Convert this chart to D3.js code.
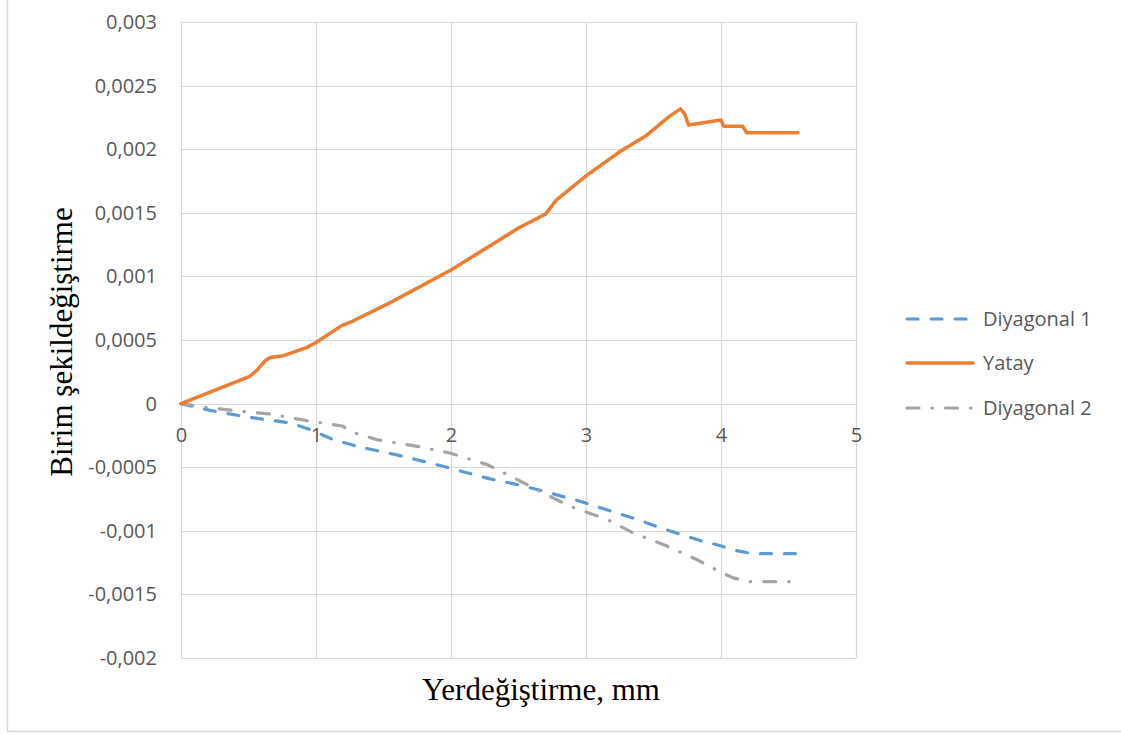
<!DOCTYPE html>
<html>
<head>
<meta charset="utf-8">
<script src="https://cdn.jsdelivr.net/npm/d3@7/dist/d3.min.js"></script>
<style>
  html, body { margin: 0; padding: 0; background: #fff; }
  svg { display: block; }
  .tick text { font-family: "Open Sans", "Noto Sans", sans-serif; fill: #595959; }
</style>
</head>
<body>
<svg id="chart" width="1121" height="735"></svg>
<script>
// Displacement (mm) vs. unit strain for three gauges
const yatayX = [0, 0.51, 0.56, 0.62, 0.66, 0.76, 0.93, 1.0, 1.19, 1.27, 1.55, 2.0, 2.5, 2.7, 2.78, 3.0, 3.25, 3.45, 3.62, 3.70, 3.73, 3.76, 4.0, 4.02, 4.16, 4.19, 4.57];
const yatayY = [0, 0.000215, 0.00026, 0.000333, 0.000362, 0.000377, 0.00044, 0.00048, 0.000613, 0.000647, 0.000794, 0.00105, 0.00138, 0.00149, 0.0016, 0.00179, 0.00198, 0.00211, 0.00226, 0.002317, 0.00228, 0.00219, 0.00223, 0.00218, 0.00218, 0.00213, 0.00213];

const diyagonal1X = [0, 0.215, 0.46, 0.66, 0.81, 0.956, 1.127, 1.30, 1.645, 1.94, 2.29, 2.46, 2.66, 2.956, 3.25, 3.42, 3.55, 3.84, 3.99, 4.09, 4.23, 4.57];
const diyagonal1Y = [0, -0.000053, -0.0001, -0.000131, -0.000152, -0.000204, -0.000283, -0.000335, -0.000414, -0.000493, -0.000592, -0.000629, -0.000681, -0.000768, -0.000867, -0.000925, -0.000977, -0.001075, -0.001116, -0.00115, -0.00118, -0.00118];

const diyagonal2X = [0, 0.215, 0.51, 0.66, 0.956, 1.08, 1.2, 1.25, 1.45, 1.62, 1.75, 1.99, 2.27, 2.49, 2.66, 2.88, 3.16, 3.35, 3.6, 3.82, 4.0, 4.09, 4.21, 4.57];
const diyagonal2Y = [0, -0.000034, -0.000068, -0.000081, -0.000139, -0.000157, -0.000178, -0.000218, -0.000283, -0.000314, -0.000336, -0.000388, -0.00048, -0.000597, -0.00069, -0.000807, -0.000912, -0.001017, -0.00112, -0.001226, -0.001326, -0.00137, -0.0014, -0.0014];

const xTickValues = [0, 1, 2, 3, 4, 5];
const xTickLabels = ["0", "1", "2", "3", "4", "5"];
const yTickValues = [-0.002, -0.0015, -0.001, -0.0005, 0, 0.0005, 0.001, 0.0015, 0.002, 0.0025, 0.003];
const yTickLabels = ["-0,002", "-0,0015", "-0,001", "-0,0005", "0", "0,0005", "0,001", "0,0015", "0,002", "0,0025", "0,003"];

const seriesNames = ["Diyagonal 1", "Yatay", "Diyagonal 2"];

const svg = d3.select("#chart");
const W = 1121, H = 735;
const plotLeft = 181, plotRight = 856, plotTop = 22, plotBottom = 658;

const x = d3.scaleLinear().domain([0, 5]).range([plotLeft, plotRight]);
const y = d3.scaleLinear().domain([-0.002, 0.003]).range([plotBottom, plotTop]);

// outer frame (left and bottom edges)
svg.append("path")
  .attr("d", `M7.5,0 V731.5 H${W}`)
  .attr("fill", "none").attr("stroke", "#d9d9d9").attr("stroke-width", 1.5);

const grid = "#d9d9d9";
// horizontal gridlines
svg.append("g").selectAll("line").data(yTickValues).join("line")
  .attr("x1", plotLeft).attr("x2", plotRight)
  .attr("y1", d => Math.round(y(d)) + 0.5).attr("y2", d => Math.round(y(d)) + 0.5)
  .attr("stroke", grid).attr("stroke-width", 1.2);
// vertical gridlines
svg.append("g").selectAll("line").data(xTickValues).join("line")
  .attr("x1", d => Math.round(x(d)) + 0.5).attr("x2", d => Math.round(x(d)) + 0.5)
  .attr("y1", plotTop).attr("y2", plotBottom)
  .attr("stroke", grid).attr("stroke-width", 1.2);

// y axis labels
const yAxis = d3.axisLeft(y).tickValues(yTickValues)
  .tickFormat((d, i) => yTickLabels[i]).tickSize(0).tickPadding(24);
const gy = svg.append("g").attr("transform", `translate(${plotLeft},0)`).call(yAxis);
gy.select(".domain").remove();
gy.selectAll("text").attr("font-size", 20);

// x axis labels along the zero line
const xAxis = d3.axisBottom(x).tickValues(xTickValues)
  .tickFormat((d, i) => xTickLabels[i]).tickSize(0).tickPadding(24);
const gx = svg.append("g").attr("transform", `translate(0,${y(0)})`).call(xAxis);
gx.select(".domain").remove();
gx.selectAll("text").attr("font-size", 20);

// series
const line = d3.line().x(d => x(d[0])).y(d => y(d[1]));
const series = [
  { name: seriesNames[0], xs: diyagonal1X, ys: diyagonal1Y, color: "#5B9BD5", dash: "11,13", width: 3.2 },
  { name: seriesNames[1], xs: yatayX, ys: yatayY, color: "#ED7D31", dash: null, width: 3.5 },
  { name: seriesNames[2], xs: diyagonal2X, ys: diyagonal2Y, color: "#A5A5A5", dash: "12,13,0.5,13", width: 3.2 }
];
// orange drawn last so it sits on top near the origin
[series[0], series[2], series[1]].forEach(s => {
  const pts = s.xs.map((v, i) => [v, s.ys[i]]);
  svg.append("path")
    .attr("d", line(pts))
    .attr("fill", "none")
    .attr("stroke", s.color)
    .attr("stroke-width", s.width)
    .attr("stroke-linecap", "round")
    .attr("stroke-linejoin", "round")
    .attr("stroke-dasharray", s.dash);
});

// legend
const legendY = [319, 363, 408];
const lg = svg.append("g");
series.forEach((s, i) => {
  lg.append("line")
    .attr("x1", 907).attr("x2", 973)
    .attr("y1", legendY[i]).attr("y2", legendY[i])
    .attr("stroke", s.color).attr("stroke-width", s.width)
    .attr("stroke-linecap", "round")
    .attr("stroke-dasharray", s.dash);
  lg.append("text")
    .attr("x", 983).attr("y", legendY[i])
    .attr("dy", "0.35em")
    .attr("font-family", "'Open Sans', 'Noto Sans', sans-serif")
    .attr("font-size", 20)
    .attr("fill", "#595959")
    .text(s.name);
});

// axis titles
svg.append("text")
  .attr("x", 541).attr("y", 700)
  .attr("text-anchor", "middle")
  .attr("font-family", "'Liberation Serif', 'Times New Roman', serif")
  .attr("font-size", 31)
  .attr("fill", "#000")
  .text("Yerdeğiştirme, mm");

svg.append("text")
  .attr("transform", "translate(72,342) rotate(-90)")
  .attr("text-anchor", "middle")
  .attr("font-family", "'Liberation Serif', 'Times New Roman', serif")
  .attr("font-size", 31)
  .attr("fill", "#000")
  .text("Birim şekildeğiştirme");
</script>
</body>
</html>
